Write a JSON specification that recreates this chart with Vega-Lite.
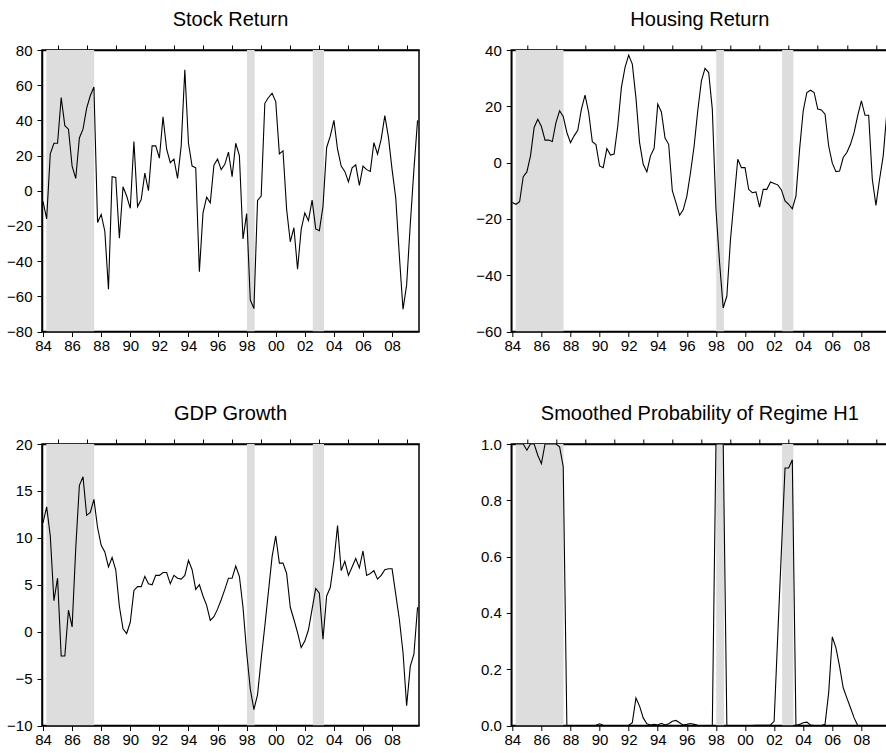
{
  "$schema": "https://vega.github.io/schema/vega-lite/v6.json",
  "padding": {"left": 5, "top": 9, "right": 0, "bottom": 0},
  "background": "white",
  "config": {
    "view": {"stroke": "#000", "strokeWidth": 1.5},
    "axis": {"domainColor": "#000", "domainWidth": 1.5, "tickColor": "#000", "tickWidth": 1, "tickSize": 5, "labelColor": "#000", "labelFont": "Liberation Sans", "labelFontSize": 15, "grid": false, "labelFlush": false, "labelOverlap": false},
    "title": {"font": "Liberation Sans", "fontSize": 20, "fontWeight": "normal", "color": "#000", "baseline": "alphabetic", "offset": 13, "anchor": "middle", "frame": "group"}
  },
  "datasets": {
    "shade": [
      {"start": 1984.23, "end": 1987.52},
      {"start": 1998.02, "end": 1998.55},
      {"start": 2002.55, "end": 2003.32}
    ],
    "series": [
      {"t": 1984, "stock": -6, "house": -14.2, "gdp": 11.6, "prob": 1},
      {"t": 1984.25, "stock": -16, "house": -14.8, "gdp": 13.3, "prob": 1},
      {"t": 1984.5, "stock": 21, "house": -13.9, "gdp": 10.2, "prob": 1},
      {"t": 1984.75, "stock": 27, "house": -5, "gdp": 3.3, "prob": 1},
      {"t": 1985, "stock": 27, "house": -3.3, "gdp": 5.7, "prob": 0.978},
      {"t": 1985.25, "stock": 53, "house": 2.4, "gdp": -2.6, "prob": 1},
      {"t": 1985.5, "stock": 37, "house": 12.5, "gdp": -2.6, "prob": 1},
      {"t": 1985.75, "stock": 35, "house": 15.4, "gdp": 2.3, "prob": 0.96},
      {"t": 1986, "stock": 14, "house": 12.8, "gdp": 0.5, "prob": 0.93},
      {"t": 1986.25, "stock": 7, "house": 8, "gdp": 8.9, "prob": 1},
      {"t": 1986.5, "stock": 30, "house": 8, "gdp": 15.6, "prob": 1},
      {"t": 1986.75, "stock": 35, "house": 7.5, "gdp": 16.5, "prob": 1},
      {"t": 1987, "stock": 47, "house": 14.2, "gdp": 12.4, "prob": 1},
      {"t": 1987.25, "stock": 54, "house": 18.4, "gdp": 12.7, "prob": 0.99},
      {"t": 1987.5, "stock": 59, "house": 16.4, "gdp": 14.1, "prob": 0.92},
      {"t": 1987.75, "stock": -18, "house": 10.7, "gdp": 11.1, "prob": 0},
      {"t": 1988, "stock": -13.5, "house": 7.1, "gdp": 9.2, "prob": 0},
      {"t": 1988.25, "stock": -23, "house": 9.5, "gdp": 8.5, "prob": 0},
      {"t": 1988.5, "stock": -56, "house": 11.5, "gdp": 6.9, "prob": 0},
      {"t": 1988.75, "stock": 8, "house": 19, "gdp": 7.9, "prob": 0},
      {"t": 1989, "stock": 7.6, "house": 24, "gdp": 6.6, "prob": 0},
      {"t": 1989.25, "stock": -27, "house": 17.8, "gdp": 2.7, "prob": 0},
      {"t": 1989.5, "stock": 2.3, "house": 7.4, "gdp": 0.3, "prob": 0},
      {"t": 1989.75, "stock": -3, "house": 6.4, "gdp": -0.2, "prob": 0.001},
      {"t": 1990, "stock": -10, "house": -1.2, "gdp": 1.0, "prob": 0.006},
      {"t": 1990.25, "stock": 28, "house": -1.8, "gdp": 4.4, "prob": 0.001},
      {"t": 1990.5, "stock": -9, "house": 5, "gdp": 4.8, "prob": 0},
      {"t": 1990.75, "stock": -5, "house": 2.7, "gdp": 4.8, "prob": 0},
      {"t": 1991, "stock": 10, "house": 3, "gdp": 5.9, "prob": 0},
      {"t": 1991.25, "stock": 0, "house": 13, "gdp": 5.1, "prob": 0},
      {"t": 1991.5, "stock": 25.5, "house": 26.7, "gdp": 5.0, "prob": 0},
      {"t": 1991.75, "stock": 25.5, "house": 33.8, "gdp": 6.0, "prob": 0},
      {"t": 1992, "stock": 18.5, "house": 38.2, "gdp": 6.0, "prob": 0.001},
      {"t": 1992.25, "stock": 42, "house": 35, "gdp": 6.3, "prob": 0.01},
      {"t": 1992.5, "stock": 23.6, "house": 23, "gdp": 6.3, "prob": 0.098},
      {"t": 1992.75, "stock": 16, "house": 7.1, "gdp": 5.1, "prob": 0.069},
      {"t": 1993, "stock": 18, "house": -0.6, "gdp": 6.0, "prob": 0.027},
      {"t": 1993.25, "stock": 7, "house": -3.3, "gdp": 5.7, "prob": 0.006},
      {"t": 1993.5, "stock": 25.5, "house": 2.4, "gdp": 5.6, "prob": 0.002},
      {"t": 1993.75, "stock": 68.8, "house": 5.1, "gdp": 6.0, "prob": 0.004},
      {"t": 1994, "stock": 27, "house": 20.8, "gdp": 7.6, "prob": 0.002},
      {"t": 1994.25, "stock": 14, "house": 18, "gdp": 6.6, "prob": 0.008},
      {"t": 1994.5, "stock": 13, "house": 8.7, "gdp": 4.5, "prob": 0.002},
      {"t": 1994.75, "stock": -46, "house": 6.5, "gdp": 5.0, "prob": 0.006},
      {"t": 1995, "stock": -12.6, "house": -10, "gdp": 3.8, "prob": 0.015},
      {"t": 1995.25, "stock": -3.6, "house": -14.2, "gdp": 2.8, "prob": 0.018},
      {"t": 1995.5, "stock": -6.9, "house": -18.7, "gdp": 1.2, "prob": 0.01},
      {"t": 1995.75, "stock": 14.5, "house": -16.8, "gdp": 1.6, "prob": 0.002},
      {"t": 1996, "stock": 18, "house": -11.9, "gdp": 2.4, "prob": 0.004},
      {"t": 1996.25, "stock": 12, "house": -3.6, "gdp": 3.4, "prob": 0.007},
      {"t": 1996.5, "stock": 15, "house": 5.9, "gdp": 4.5, "prob": 0.004},
      {"t": 1996.75, "stock": 22, "house": 18.4, "gdp": 5.7, "prob": 0.001},
      {"t": 1997, "stock": 8, "house": 29, "gdp": 5.7, "prob": 0},
      {"t": 1997.25, "stock": 27, "house": 33.5, "gdp": 7.0, "prob": 0},
      {"t": 1997.5, "stock": 20, "house": 32, "gdp": 5.9, "prob": 0},
      {"t": 1997.75, "stock": -27.4, "house": 19, "gdp": 2.6, "prob": 0},
      {"t": 1998, "stock": -13, "house": -16.6, "gdp": -2.2, "prob": 1},
      {"t": 1998.25, "stock": -62, "house": -35.6, "gdp": -6.1, "prob": 1},
      {"t": 1998.5, "stock": -67, "house": -51.6, "gdp": -8.3, "prob": 1},
      {"t": 1998.75, "stock": -5.5, "house": -47.4, "gdp": -6.7, "prob": 0},
      {"t": 1999, "stock": -3, "house": -27.3, "gdp": -2.9, "prob": 0},
      {"t": 1999.25, "stock": 49.7, "house": -13, "gdp": 0.6, "prob": 0},
      {"t": 1999.5, "stock": 53, "house": 1.2, "gdp": 4.3, "prob": 0},
      {"t": 1999.75, "stock": 55.4, "house": -1.8, "gdp": 8.0, "prob": 0},
      {"t": 2000, "stock": 50.7, "house": -1.8, "gdp": 10.2, "prob": 0},
      {"t": 2000.25, "stock": 21, "house": -9.5, "gdp": 7.3, "prob": 0},
      {"t": 2000.5, "stock": 22.7, "house": -10.7, "gdp": 7.3, "prob": 0},
      {"t": 2000.75, "stock": -10.7, "house": -10.4, "gdp": 6.2, "prob": 0.001},
      {"t": 2001, "stock": -29, "house": -15.8, "gdp": 2.6, "prob": 0.001},
      {"t": 2001.25, "stock": -21, "house": -9.5, "gdp": 1.3, "prob": 0.001},
      {"t": 2001.5, "stock": -44.6, "house": -9.5, "gdp": -0.1, "prob": 0.001},
      {"t": 2001.75, "stock": -22, "house": -6.9, "gdp": -1.7, "prob": 0.002},
      {"t": 2002, "stock": -12.6, "house": -7.4, "gdp": -1.0, "prob": 0.015},
      {"t": 2002.25, "stock": -17, "house": -7.9, "gdp": 0.2, "prob": 0.32},
      {"t": 2002.5, "stock": -5.3, "house": -9.7, "gdp": 2.4, "prob": 0.62},
      {"t": 2002.75, "stock": -21.7, "house": -13.6, "gdp": 4.6, "prob": 0.915},
      {"t": 2003, "stock": -22.7, "house": -14.8, "gdp": 4.1, "prob": 0.915},
      {"t": 2003.25, "stock": -8.8, "house": -16.4, "gdp": -0.8, "prob": 0.944},
      {"t": 2003.5, "stock": 24.6, "house": -11.9, "gdp": 3.8, "prob": 0},
      {"t": 2003.75, "stock": 31, "house": 4.7, "gdp": 4.7, "prob": 0.004},
      {"t": 2004, "stock": 40, "house": 18.4, "gdp": 7.5, "prob": 0.01},
      {"t": 2004.25, "stock": 23.6, "house": 24.9, "gdp": 11.3, "prob": 0.012},
      {"t": 2004.5, "stock": 14, "house": 25.7, "gdp": 6.5, "prob": 0.002},
      {"t": 2004.75, "stock": 11, "house": 24.9, "gdp": 7.5, "prob": 0},
      {"t": 2005, "stock": 5, "house": 19, "gdp": 6.0, "prob": 0},
      {"t": 2005.25, "stock": 13, "house": 18.7, "gdp": 6.9, "prob": 0},
      {"t": 2005.5, "stock": 14.7, "house": 17.2, "gdp": 7.8, "prob": 0.004},
      {"t": 2005.75, "stock": 3, "house": 5.9, "gdp": 6.8, "prob": 0.116},
      {"t": 2006, "stock": 14, "house": -0.2, "gdp": 8.6, "prob": 0.315},
      {"t": 2006.25, "stock": 12, "house": -3.2, "gdp": 6.0, "prob": 0.276},
      {"t": 2006.5, "stock": 11, "house": -3, "gdp": 6.2, "prob": 0.21},
      {"t": 2006.75, "stock": 27.4, "house": 1.8, "gdp": 6.5, "prob": 0.134},
      {"t": 2007, "stock": 20.8, "house": 3.6, "gdp": 5.6, "prob": 0.098},
      {"t": 2007.25, "stock": 29.3, "house": 6.5, "gdp": 6.0, "prob": 0.063},
      {"t": 2007.5, "stock": 42.7, "house": 10.7, "gdp": 6.6, "prob": 0.027},
      {"t": 2007.75, "stock": 30.3, "house": 16.8, "gdp": 6.7, "prob": 0},
      {"t": 2008, "stock": 12, "house": 21.9, "gdp": 6.7, "prob": 0},
      {"t": 2008.25, "stock": -4, "house": 16.8, "gdp": 4.0, "prob": 0},
      {"t": 2008.5, "stock": -37, "house": 16.8, "gdp": 1.3, "prob": 0},
      {"t": 2008.75, "stock": -67.4, "house": -5.9, "gdp": -2.2, "prob": 0},
      {"t": 2009, "stock": -53.5, "house": -15.2, "gdp": -7.9, "prob": 0},
      {"t": 2009.25, "stock": -19, "house": -5.9, "gdp": -3.7, "prob": 0},
      {"t": 2009.5, "stock": 12, "house": 2.4, "gdp": -2.4, "prob": 0},
      {"t": 2009.75, "stock": 40, "house": 17.8, "gdp": 2.6, "prob": 0}
    ]
  },
  "columns": 2,
  "spacing": {"column": 92.3, "row": 112},
  "bounds": "flush",
  "concat": [
    {
      "title": {"text": "Stock Return"},
      "width": 377, "height": 281.5,
      "resolve": {"axis": {"x": "independent"}},
      "layer": [
        {"data": {"name": "shade"}, "mark": {"type": "rect", "color": "#dddddd", "clip": true},
         "encoding": {
           "x": {"field": "start", "type": "quantitative", "title": null, "scale": {"domain": [1983.93, 2009.85], "nice": false, "zero": false},
                 "axis": {"values": [1984,1986,1988,1990,1992,1994,1996,1998,2000,2002,2004,2006,2008], "labelExpr": "slice(format(datum.value, 'd'), 2)", "labelPadding": 2, "labelDx": 3, "labelOverlap": false, "labelFlush": false}},
           "x2": {"field": "end"}}},
        {"data": {"name": "series"}, "mark": {"type": "line", "color": "#000", "strokeWidth": 1.1, "clip": true},
         "encoding": {
           "x": {"field": "t", "type": "quantitative", "title": null, "axis": {"values": [1985,1987,1989,1991,1993,1995,1997,1999,2001,2003,2005,2007,2009], "labels": false}},
           "y": {"field": "stock", "type": "quantitative", "title": null, "scale": {"domain": [-80, 80], "nice": false, "zero": false},
                 "axis": {"values": [-80, -60, -40, -20, 0, 20, 40, 60, 80], "labelPadding": 5, "labelOverlap": false, "labelFlush": false}}}}
      ]
    },
    {
      "title": {"text": "Housing Return"},
      "width": 377, "height": 281.5,
      "resolve": {"axis": {"x": "independent"}},
      "layer": [
        {"data": {"name": "shade"}, "mark": {"type": "rect", "color": "#dddddd", "clip": true},
         "encoding": {
           "x": {"field": "start", "type": "quantitative", "title": null, "scale": {"domain": [1983.93, 2009.85], "nice": false, "zero": false},
                 "axis": {"values": [1984,1986,1988,1990,1992,1994,1996,1998,2000,2002,2004,2006,2008], "labelExpr": "slice(format(datum.value, 'd'), 2)", "labelPadding": 2, "labelDx": 3, "labelOverlap": false, "labelFlush": false}},
           "x2": {"field": "end"}}},
        {"data": {"name": "series"}, "mark": {"type": "line", "color": "#000", "strokeWidth": 1.1, "clip": true},
         "encoding": {
           "x": {"field": "t", "type": "quantitative", "title": null, "axis": {"values": [1985,1987,1989,1991,1993,1995,1997,1999,2001,2003,2005,2007,2009], "labels": false}},
           "y": {"field": "house", "type": "quantitative", "title": null, "scale": {"domain": [-60, 40], "nice": false, "zero": false},
                 "axis": {"values": [-60, -40, -20, 0, 20, 40], "labelPadding": 5, "labelOverlap": false, "labelFlush": false}}}}
      ]
    },
    {
      "title": {"text": "GDP Growth"},
      "width": 377, "height": 281.5,
      "resolve": {"axis": {"x": "independent"}},
      "layer": [
        {"data": {"name": "shade"}, "mark": {"type": "rect", "color": "#dddddd", "clip": true},
         "encoding": {
           "x": {"field": "start", "type": "quantitative", "title": null, "scale": {"domain": [1983.93, 2009.85], "nice": false, "zero": false},
                 "axis": {"values": [1984,1986,1988,1990,1992,1994,1996,1998,2000,2002,2004,2006,2008], "labelExpr": "slice(format(datum.value, 'd'), 2)", "labelPadding": 2, "labelDx": 3, "labelOverlap": false, "labelFlush": false}},
           "x2": {"field": "end"}}},
        {"data": {"name": "series"}, "mark": {"type": "line", "color": "#000", "strokeWidth": 1.1, "clip": true},
         "encoding": {
           "x": {"field": "t", "type": "quantitative", "title": null, "axis": {"values": [1985,1987,1989,1991,1993,1995,1997,1999,2001,2003,2005,2007,2009], "labels": false}},
           "y": {"field": "gdp", "type": "quantitative", "title": null, "scale": {"domain": [-10, 20], "nice": false, "zero": false},
                 "axis": {"values": [-10, -5, 0, 5, 10, 15, 20], "labelPadding": 5, "labelOverlap": false, "labelFlush": false}}}}
      ]
    },
    {
      "title": {"text": "Smoothed Probability of Regime H1"},
      "width": 377, "height": 281.5,
      "resolve": {"axis": {"x": "independent"}},
      "layer": [
        {"data": {"name": "shade"}, "mark": {"type": "rect", "color": "#dddddd", "clip": true},
         "encoding": {
           "x": {"field": "start", "type": "quantitative", "title": null, "scale": {"domain": [1983.93, 2009.85], "nice": false, "zero": false},
                 "axis": {"values": [1984,1986,1988,1990,1992,1994,1996,1998,2000,2002,2004,2006,2008], "labelExpr": "slice(format(datum.value, 'd'), 2)", "labelPadding": 2, "labelDx": 3, "labelOverlap": false, "labelFlush": false}},
           "x2": {"field": "end"}}},
        {"data": {"name": "series"}, "mark": {"type": "line", "color": "#000", "strokeWidth": 1.1, "clip": true},
         "encoding": {
           "x": {"field": "t", "type": "quantitative", "title": null, "axis": {"values": [1985,1987,1989,1991,1993,1995,1997,1999,2001,2003,2005,2007,2009], "labels": false}},
           "y": {"field": "prob", "type": "quantitative", "title": null, "scale": {"domain": [0, 1], "nice": false, "zero": false},
                 "axis": {"values": [0, 0.2, 0.4, 0.6, 0.8, 1], "format": ".1f", "labelPadding": 5, "labelOverlap": false, "labelFlush": false}}}}
      ]
    }
  ]
}
